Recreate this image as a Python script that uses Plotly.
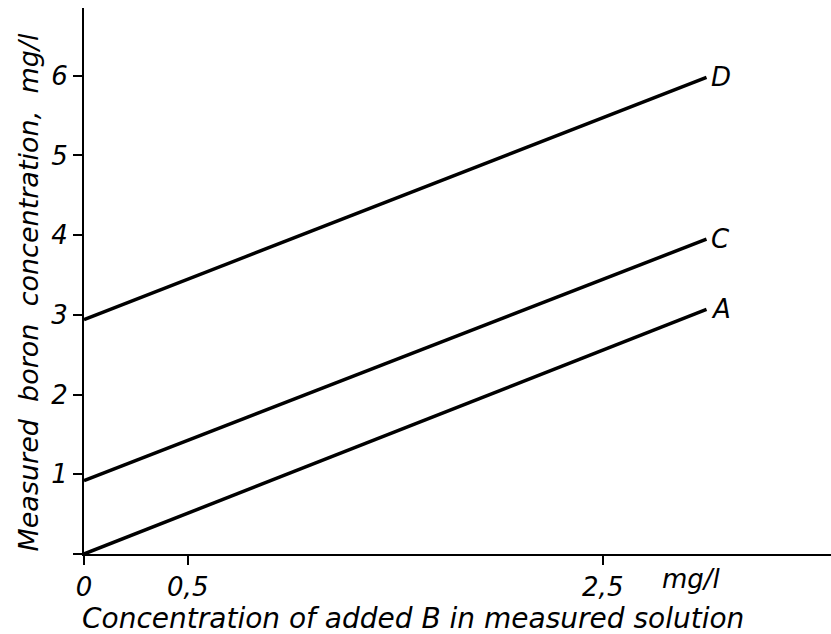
import plotly.graph_objects as go

# Data
x_added = [0.0, 3.0]
line_A = [0.0, 3.07]
line_C = [0.92, 3.95]
line_D = [2.94, 5.98]
series = [("A", line_A), ("C", line_C), ("D", line_D)]

x_tickvals = [0, 0.5, 2.5]
x_ticktext = ["0", "0,5", "2,5"]
y_tickvals = [0, 1, 2, 3, 4, 5, 6]
y_ticktext = ["", "1", "2", "3", "4", "5", "6"]

x_title = "Concentration of added B in measured solution"
y_title = "Measured  boron  concentration,  mg/l"
x_unit = "mg/l"

FONT = "DejaVu Sans"

fig = go.Figure()
for name, ys in series:
    fig.add_trace(go.Scatter(x=x_added, y=ys, mode="lines",
                             line=dict(color="black", width=3.5),
                             showlegend=False, hoverinfo="skip"))
    fig.add_annotation(x=x_added[-1], y=ys[-1], xref="x", yref="y",
                       text=name, showarrow=False, xanchor="left",
                       yanchor="middle", xshift=2,
                       font=dict(family=FONT, size=26, color="black", style="italic"))

fig.add_annotation(x=2.93, y=0, xref="x", yref="y", text=x_unit,
                   showarrow=False, yanchor="middle", yshift=-25,
                   font=dict(family=FONT, size=26, color="black", style="italic"))
fig.add_annotation(x=0.44, y=0, xref="paper", yref="y", text=x_title,
                   showarrow=False, yanchor="middle", yshift=-64,
                   font=dict(family=FONT, size=28, color="black", style="italic"))
fig.add_annotation(x=0, y=3.28, xref="paper", yref="y", text=y_title,
                   showarrow=False, textangle=-90, xanchor="center",
                   xshift=-55,
                   font=dict(family=FONT, size=27, color="black", style="italic"))

fig.update_layout(
    width=831, height=634,
    margin=dict(l=84, r=0, t=8, b=80),
    paper_bgcolor="white", plot_bgcolor="white",
    xaxis=dict(range=[0, 3.6], tickvals=x_tickvals, ticktext=x_ticktext,
               showgrid=False, zeroline=False, showline=True,
               linecolor="black", linewidth=2, ticks="outside",
               ticklen=9, tickwidth=2, tickcolor="black",
               tickfont=dict(family=FONT, size=26, color="black", style="italic")),
    yaxis=dict(range=[0, 6.85], tickvals=y_tickvals, ticktext=y_ticktext,
               showgrid=False, zeroline=False, showline=True,
               linecolor="black", linewidth=2, ticks="outside",
               ticklen=9, tickwidth=2, tickcolor="black",
               tickfont=dict(family=FONT, size=26, color="black", style="italic")),
)

fig.write_html("out.html")
